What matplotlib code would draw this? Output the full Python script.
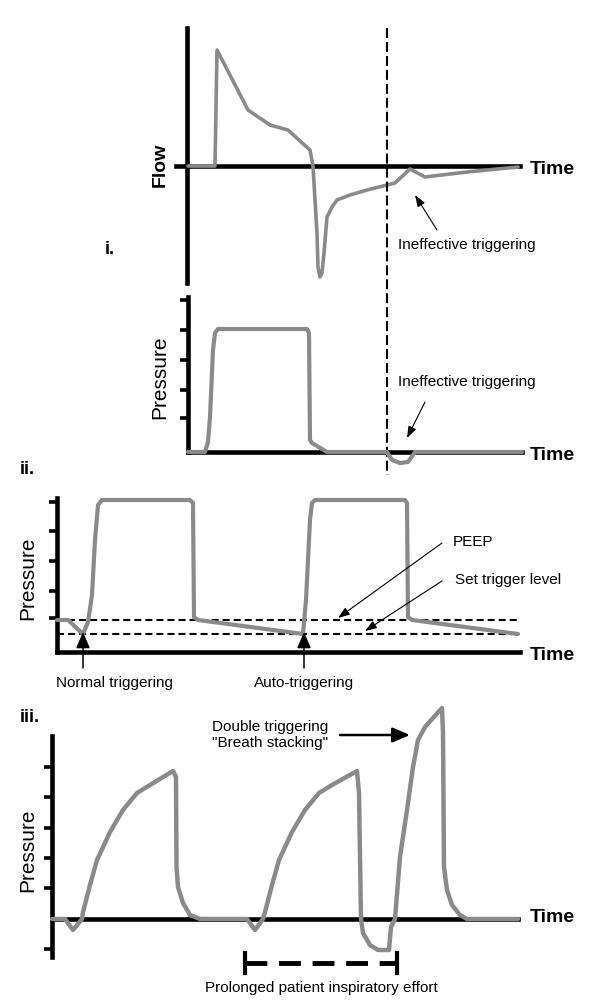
import matplotlib
matplotlib.use('Agg')
import matplotlib.pyplot as plt

plt.rcParams['font.family'] = ['Liberation Sans', 'DejaVu Sans']

# ---------------- data (time units, signal units) ----------------
# Panel i: flow
flow_t = [0.1, 2.8, 3.0, 6.1, 8.3, 10.1, 12.3, 12.6, 12.8, 13.0, 13.1, 13.3, 13.5,
          13.7, 14.0, 14.5, 15.0, 16.3, 18.0, 20.8, 22.3, 23.8, 28.0, 33.1]
flow_v = [0, 0, 11.6, 5.6, 4.1, 3.6, 1.6, 0, -3.4, -6.7, -10.1, -11.1, -10.7,
          -8.7, -5.1, -4.1, -3.4, -2.9, -2.4, -1.7, -0.3, -1.1, -0.6, -0.1]
# Panel i: pressure
press1_t = [0, 1.7, 2.0, 2.2, 2.5, 2.7, 3.0, 11.9, 12.1, 12.2, 12.4, 13.9, 19.9,
            20.4, 21.2, 22.0, 22.5, 22.7, 33.4]
press1_v = [0, 0, 1.0, 3.5, 10.2, 11.9, 12.3, 12.3, 11.9, 1.2, 0.9, 0, 0,
            -0.8, -1.1, -1.0, -0.3, 0, 0]
press1_ticks = [3.4, 6.2, 9.2, 12.2, 15.2]
ineffective_t = 20.0

# Panel ii: pressure with PEEP / trigger level
press2_t = [0, 1.1, 2.6, 3.1, 3.5, 3.8, 4.1, 4.5, 13.3, 13.6, 13.7, 14.1, 24.6,
            24.9, 25.3, 25.5, 25.8, 34.8, 35.0, 35.1, 35.5, 46.1]
press2_v = [3.2, 3.2, 1.8, 3.0, 5.7, 11.2, 14.7, 15.2, 15.2, 14.9, 3.5, 3.2, 1.8,
            5.2, 13.2, 14.9, 15.2, 15.2, 14.9, 3.5, 3.2, 1.8]
press2_ticks = [3.4, 6.1, 9.1, 12.1, 15.0]
peep_level = 3.2
trigger_level = 1.8
normal_trig_t = 2.6
auto_trig_t = 24.7

# Panel iii: pressure with double triggering
press3_t = [0, 1.3, 2.1, 3.0, 3.1, 3.8, 4.5, 5.8, 7.1, 8.5, 9.8, 12.1, 12.4, 12.45,
            12.6, 13.1, 13.8, 14.8, 19.5, 20.3, 21.1, 21.3, 22.0, 22.7, 24.0, 25.3,
            26.7, 28.0, 30.5, 30.7, 30.9, 31.1, 31.8, 32.6, 33.7, 33.9, 34.3, 34.8,
            35.5, 36.1, 36.6, 37.3, 39.0, 39.1, 39.2, 39.5, 40.0, 40.8, 41.5, 46.6]
press3_v = [0, 0, -1.1, 0, 0.7, 3.4, 5.9, 8.7, 10.9, 12.6, 13.4, 14.8, 14.2, 5.2,
            3.2, 1.6, 0.4, 0, 0, -1.1, 0, 0.7, 3.4, 5.9, 8.7, 10.9,
            12.6, 13.4, 14.8, 12.6, 0, -1.4, -2.6, -3.1, -3.1, -0.8, 0, 6.2,
            10.9, 15.2, 17.9, 19.2, 21.1, 18.6, 5.2, 2.9, 1.4, 0.4, 0, 0]
press3_ticks = [-3.0, 3.1, 6.1, 9.1, 12.2, 15.2]
effort_start, effort_end = 19.3, 34.5

# ---------------- figure ----------------
W, H = 615, 1000
fig = plt.figure(figsize=(6.15, 10), dpi=100)
fig.patch.set_facecolor('white')
GRAY = '#8a8a8a'
TXT = 11
LBL = 14


def panel(ox, oy, left, right, top, bottom):
    ax = fig.add_axes([left / W, 1 - bottom / H, (right - left) / W, (bottom - top) / H])
    ax.set_xlim((left - ox) / 10, (right - ox) / 10)
    ax.set_ylim((oy - bottom) / 10, (oy - top) / 10)
    ax.patch.set_visible(False)
    for s in ['top', 'right']:
        ax.spines[s].set_visible(False)
    for s in ['left', 'bottom']:
        ax.spines[s].set_position(('data', 0))
        ax.spines[s].set_linewidth(3.3)
        ax.spines[s].set_color('black')
        ax.spines[s].set_zorder(2.5)
    ax.set_xticks([])
    return ax


def ticks(ax, vals):
    ax.set_yticks(vals)
    ax.tick_params(axis='y', direction='out', length=5.5, width=2.6,
                   labelleft=False, color='black')


def trace(ax, t, v, lw=3):
    ax.plot(t, v, color=GRAY, lw=lw, zorder=3, solid_joinstyle='round',
            solid_capstyle='round', clip_on=False)


def thin_arrow(ax, tail, head):
    ax.annotate('', xy=head, xytext=tail,
                arrowprops=dict(arrowstyle='-|>,head_length=0.7,head_width=0.25',
                                lw=0.8, color='black', shrinkA=0, shrinkB=0,
                                mutation_scale=10))


# ---- Panel i: Flow ----
axA = panel(187, 166, 140, 610, 20, 290)
axA.spines['left'].set_bounds(-11.7, 13.8)
axA.spines['bottom'].set_bounds(-1.1, 33.3)
axA.set_yticks([])
trace(axA, flow_t, flow_v, lw=2.6)
axA.plot([ineffective_t, ineffective_t], [13.8, -30.9], color='black', lw=1.5,
         ls=(0, (4.8, 1.9)), clip_on=False, zorder=4)
axA.text(-2.7, 0.1, 'Flow', rotation=90, ha='center', va='center',
         fontsize=LBL, fontweight='bold')
axA.text(34.3, -0.4, 'Time', ha='left', va='center', fontsize=LBL, fontweight='bold')
axA.text(-8.2, -8.4, 'i.', ha='left', va='center', fontsize=13, fontweight='bold')
axA.text(21.1, -7.9, 'Ineffective triggering', ha='left', va='center', fontsize=TXT)
thin_arrow(axA, (25.0, -6.4), (22.8, -2.9))

# ---- Panel i: Pressure ----
axB = panel(188, 452, 140, 610, 290, 470)
axB.spines['left'].set_bounds(0, 15.5)
axB.spines['bottom'].set_bounds(0, 33.4)
ticks(axB, press1_ticks)
trace(axB, press1_t, press1_v)
axB.text(-2.8, 7.5, 'Pressure', rotation=90, ha='center', va='center', fontsize=15)
axB.text(34.2, -0.3, 'Time', ha='left', va='center', fontsize=LBL, fontweight='bold')
axB.text(21.0, 7.0, 'Ineffective triggering', ha='left', va='center', fontsize=TXT)
thin_arrow(axB, (23.7, 5.0), (21.9, 1.4))

# ---- Panel ii ----
axC = panel(57, 652, 0, 610, 460, 700)
axC.spines['left'].set_bounds(0, 15.4)
axC.spines['bottom'].set_bounds(0, 46.3)
ticks(axC, press2_ticks)
for lvl in (peep_level, trigger_level):
    axC.plot([0, 46.3], [lvl, lvl], color='black', lw=1.5, ls=(0, (3.4, 1.9)), zorder=2)
trace(axC, press2_t, press2_v)
axC.text(-2.9, 7.4, 'Pressure', rotation=90, ha='center', va='center', fontsize=15)
axC.text(47.3, -0.3, 'Time', ha='left', va='center', fontsize=LBL, fontweight='bold')
axC.text(-3.7, 18.2, 'ii.', ha='left', va='center', fontsize=13, fontweight='bold')
for tt in (normal_trig_t, auto_trig_t):
    axC.annotate('', xy=(tt, trigger_level + 0.2), xytext=(tt, -1.6),
                 arrowprops=dict(arrowstyle='-|>,head_length=0.7,head_width=0.3',
                                 lw=1.1, color='black', shrinkA=0, shrinkB=0,
                                 mutation_scale=14), annotation_clip=False)
axC.text(5.8, -3.1, 'Normal triggering', ha='center', va='center', fontsize=TXT)
axC.text(24.7, -3.1, 'Auto-triggering', ha='center', va='center', fontsize=TXT)
axC.text(39.6, 11.0, 'PEEP', ha='left', va='center', fontsize=TXT)
axC.text(39.8, 7.2, 'Set trigger level', ha='left', va='center', fontsize=TXT)
thin_arrow(axC, (38.5, 10.9), (28.1, peep_level + 0.2))
thin_arrow(axC, (38.5, 7.1), (30.8, trigger_level + 0.3))

# ---- Panel iii ----
axD = panel(52, 919, 0, 610, 700, 1000)
axD.spines['left'].set_bounds(-3.8, 18.3)
axD.spines['bottom'].set_bounds(0, 46.6)
ticks(axD, press3_ticks)
trace(axD, press3_t, press3_v, lw=3.2)
axD.text(-2.4, 6.9, 'Pressure', rotation=90, ha='center', va='center', fontsize=15)
axD.text(47.8, 0.1, 'Time', ha='left', va='center', fontsize=LBL, fontweight='bold')
axD.text(-3.2, 20.2, 'iii.', ha='left', va='center', fontsize=13, fontweight='bold')
axD.text(21.8, 18.4, 'Double triggering\n"Breath stacking"', ha='center', va='center',
         fontsize=TXT, linespacing=1.15)
axD.annotate('', xy=(35.8, 18.4), xytext=(28.8, 18.4),
             arrowprops=dict(arrowstyle='-|>,head_length=0.75,head_width=0.32',
                             lw=1.8, color='black', shrinkA=0, shrinkB=0,
                             mutation_scale=14), annotation_clip=False)
axD.plot([effort_start, effort_end], [-4.4, -4.4], color='black', lw=3.5,
         ls=(0, (4.5, 2.4)), clip_on=False, solid_capstyle='butt')
for xe in (effort_start, effort_end):
    axD.plot([xe, xe], [-3.4, -5.4], color='black', lw=3, clip_on=False)
axD.text(26.9, -6.9, 'Prolonged patient inspiratory effort', ha='center', va='center',
         fontsize=TXT)

fig.savefig('out.png', dpi=100, facecolor='white')
